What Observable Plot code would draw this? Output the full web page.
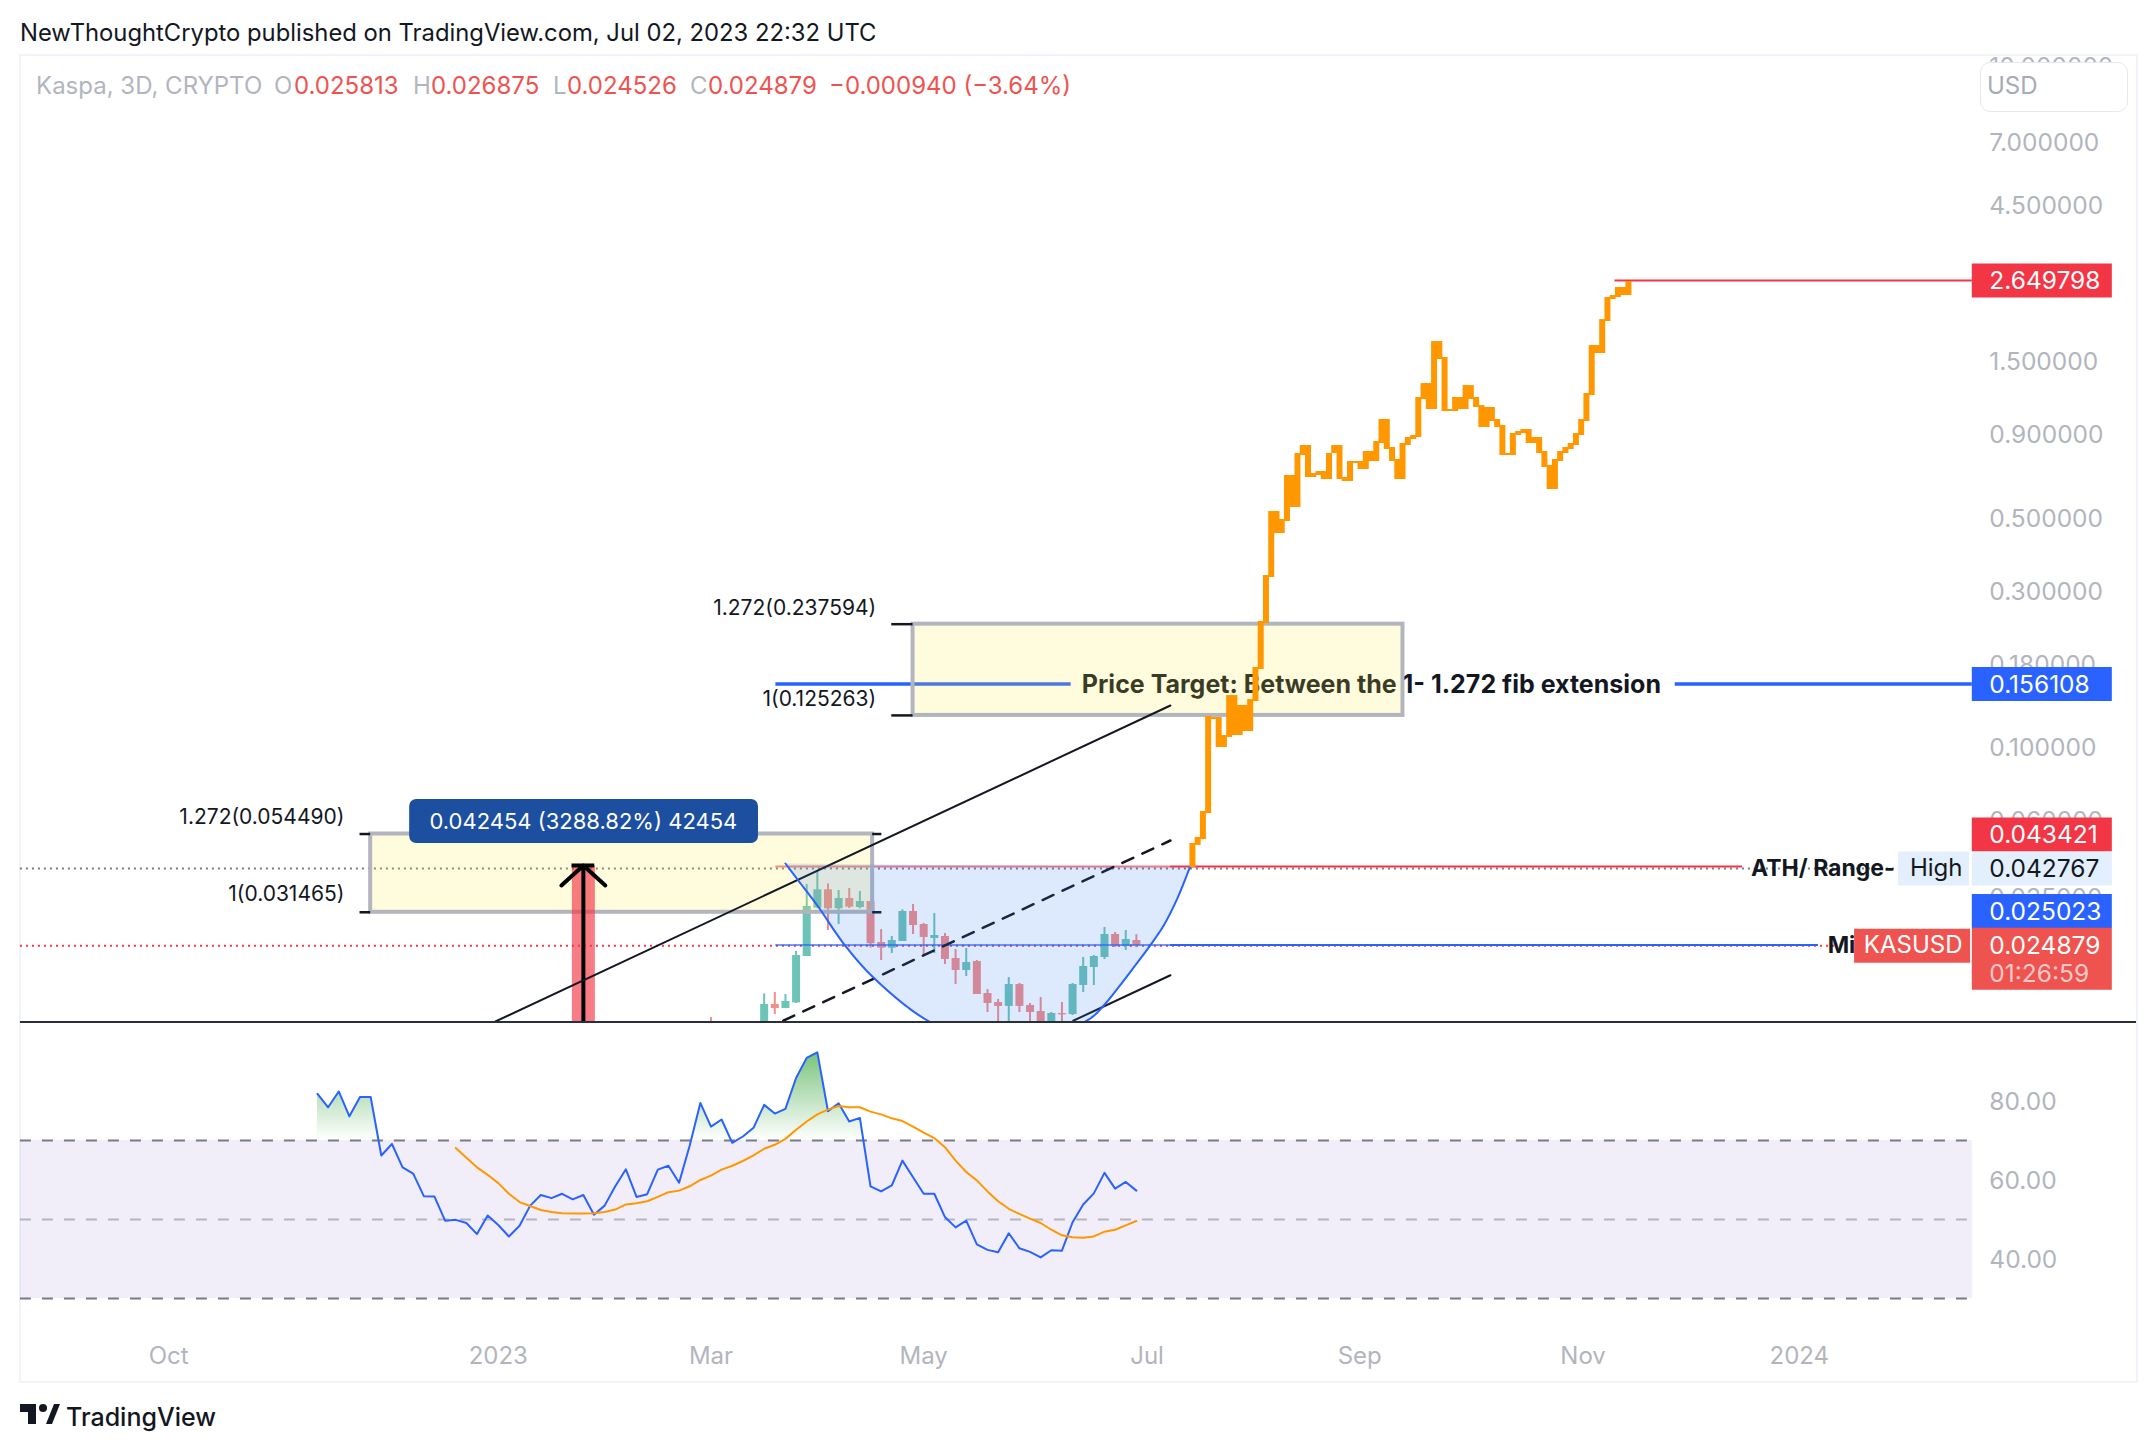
<!DOCTYPE html>
<html><head><meta charset="utf-8">
<script src="https://cdn.jsdelivr.net/npm/d3@7"></script>
<script src="https://cdn.jsdelivr.net/npm/@observablehq/plot@0.6"></script>
<style>
html,body{margin:0;background:#fff;}
#page{position:relative;width:2156px;height:1450px;overflow:hidden;font-family:Inter,sans-serif;color:#131722;}
#page>svg{position:absolute;left:0;}
.t{position:absolute;white-space:nowrap;font-size:24px;line-height:30px;}
</style></head><body><div id="page"></div>
<script>
// --- text
const publishedLine = "NewThoughtCrypto published on TradingView.com, Jul 02, 2023 22:32 UTC";
const legendItems = [["Kaspa, 3D, CRYPTO",36,"#b2b5be"],["O",274,"#b2b5be"],["0.025813",294,"#ef5350"],["H",413,"#b2b5be"],["0.026875",431,"#ef5350"],["L",553,"#b2b5be"],["0.024526",567,"#ef5350"],["C",690,"#b2b5be"],["0.024879",708,"#ef5350"],["\u22120.000940 (\u22123.64%)",829,"#ef5350"]];
// --- axes
const priceTicks = [10,7,4.5,1.5,0.9,0.5,0.3,0.18,0.1,0.06,0.035];
const rsiTicks = [80,60,40];
const timeTickDates = ["2022-09-30","2023-01-01","2023-03-02","2023-05-01","2023-07-03","2023-09-01","2023-11-03","2024-01-03"];
const timeTickLabels = ["Oct","2023","Mar","May","Jul","Sep","Nov","2024"];
const timeTickBold = [false,true,false,false,false,false,false,true];
// --- candles: bar number (3-day bars), open, high, low, close
const candleBar = [37,42,43,44,45,46,47,48,49,50,51,52,53,54,55,56,57,58,59,60,61,62,63,64,65,66,67,68,69,70,71,72,73,74,75,76,77];
const candleOpen = [.0140,.0140,.01647,.01602,.01666,.02307,.03239,.03683,.03224,.03466,.03254,.03393,.02545,.02446,.02563,.03164,.02888,.02618,.02655,.02275,.02091,.02227,.01779,.01670,.01625,.01895,.01636,.01568,.0140,.01546,.01535,.01882,.02136,.02291,.02692,.02475,.025813];
const candleHigh = [.01503,.01775,.01792,.01767,.02390,.03824,.04219,.03842,.03666,.03718,.03640,.03393,.02788,.02655,.03201,.03323,.02908,.03120,.02711,.02423,.02440,.02243,.01830,.01706,.01991,.01909,.01659,.01730,.01557,.01670,.01909,.02291,.02323,.02828,.02730,.02769,.026875];
const candleLow = [.0135,.0135,.01535,.01602,.01659,.02307,.03224,.02769,.02888,.03231,.03224,.02446,.02243,.02356,.02563,.02692,.02323,.02356,.02181,.01895,.02005,.01767,.01557,.0135,.0135,.01557,.0135,.0135,.0135,.0135,.01525,.01792,.01882,.02259,.02457,.02406,.024526];
const candleClose = [.0138,.01647,.01602,.01682,.02323,.03277,.03683,.03224,.03466,.03262,.03393,.02522,.02446,.02581,.03164,.02868,.02636,.02673,.02259,.02091,.02212,.01767,.01659,.01625,.01895,.01625,.01557,.0140,.01546,.01532,.01895,.02151,.02307,.02692,.02475,.02599,.024879];
// --- orange projected path: high and low of each projected step
const projHigh = [.0510,.0532,.0638,.1243,.1234,.1234,.1088,.1440,.1440,.1343,.1343,.1400,.1753,.2421,.3344,.5239,.5239,.4953,.6745,.6745,.7871,.8326,.8326,.6840,.6936,.6936,.7871,.8326,.8326,.6651,.7441,.7441,.7441,.7982,.7982,.8562,.9992,.9992,.8210,.7547,.8443,.8806,.8931,1.166,1.286,1.286,1.727,1.727,1.544,1.072,1.166,1.166,1.268,1.268,1.166,1.102,1.087,1.087,.9992,.9579,.7871,.9057,.9185,.9315,.9315,.8806,.8806,.7982,.7235,.7547,.7982,.8210,.8443,.9057,.9992,1.199,1.679,1.679,2.015,2.352,2.385,2.523,2.523,2.632];
const projLow = [.0431,.0503,.0524,.0629,.1217,.1000,.1000,.1073,.1088,.1088,.1119,.1119,.1381,.1729,.2387,.3297,.4490,.4490,.4884,.5388,.5388,.7761,.6651,.6651,.6745,.6558,.6558,.7871,.6558,.6467,.6467,.7337,.7035,.7035,.7441,.7441,.8443,.8095,.7441,.6558,.6558,.8326,.8684,.8806,1.150,1.072,1.072,1.522,1.057,1.057,1.057,1.072,1.072,1.150,1.087,.9446,.9446,.9852,.9446,.7761,.7761,.7761,.8931,.9057,.8443,.8443,.7871,.7134,.6114,.6114,.7441,.7871,.8095,.8326,.8931,.9852,1.182,1.588,1.588,1.988,2.319,2.352,2.385,2.385];
const projFirstDay = 246.8, projStepDays = 1.482;
// --- RSI (first value at bar 0)
const rsiValues = [81.8,78.4,82.4,76.1,81,81,66.2,69.1,63.2,61.6,55.9,55.8,49.7,49.9,49.1,46.3,51,48.6,45.7,48.4,53.5,56.2,55.4,56.5,55.1,56.2,51.2,53.5,58.4,62.7,55.7,56.4,62.6,63.6,59.3,68.7,79.5,73.5,75.3,69.4,71,73.2,79,76.8,78,85.8,90.9,92.3,77.4,79.4,74.8,75.7,58.4,57.1,58.6,64.9,60.7,56.5,56.5,50.6,48,49.7,43.7,42.3,41.7,46.5,42.7,41.8,40.4,42.2,42.1,49.3,53.8,56.6,61.8,57.8,59.5,57.3];
// RSI moving average (first value at bar 13)
const maValues = [68.1,65.6,63.2,61.3,59.2,56.5,54.4,53.4,52.4,51.9,51.6,51.5,51.5,51.6,51.9,52.5,53.8,54.1,54.6,55.7,56.9,57.3,58.4,60,61.1,62.6,63.6,64.8,66.2,67.9,68.9,70.4,72.7,74.8,76.6,77.8,78.7,78.4,78.4,77.3,76.6,75.6,74.9,73.5,72,70.6,68.3,64.9,62,59.9,57.1,54.6,52.7,51.4,50.2,49.1,47.4,46,45.5,45.4,45.7,46.9,47.4,48.5,49.6];
// --- drawings: [day since first bar, price]
const arcPoints = [[132,.04431],[135.4,.0396],[141,.033],[148.4,.02527],[156.8,.01991],[172.1,.01472],[194.1,.0121],[217.6,.01483],[221.8,.01636],[226,.0186],[230.3,.0214],[235,.02504],[238.7,.02868],[242.5,.03458],[246.1,.0432]];
const trendSolid = [[50.2,.01462],[240.6,.1343]];
const trendDashed = [[131.4,.0147],[240.6,.05207]];
const trendLower = [[213.2,.0147],[240.6,.02023]];
const fibLow = {left:15,right:156.6,top:.05449,bottom:.031465};
const fibHigh = {left:168,right:306.2,top:.237594,bottom:.125263};
const fibLabels = [["1.272(0.054490)",.0612],["1(0.031465)",.0357]];
const fibLabels2 = [["1.272(0.237594)",.265],["1(0.125263)",.1405]];
const arrowBar = 75, arrowHead = .0437, arrowWing = .03797, arrowWingDays = 6.2;
const measureLabel = "0.042454 (3288.82%) 42454";
const hiValue = .042767, lastValue = .024879, midValue = .025023, athValue = .043421, targetValue = .156108, upperValue = 2.649798;
// tag: text, price, offset, colour, text colour
const tags = [["2.649798",upperValue,0,"#f23645","#fff"],["0.156108",targetValue,0,"#2962ff","#fff"],["0.043421",athValue,-32,"#f23645","#fff"],["0.042767",hiValue,0,"#e3effd","#131722"],["0.025023",midValue,-34,"#2962ff","#fff"]];

const base = Date.UTC(2022,10,11);
const day = n => new Date(base + n*864e5);
const pxDomain = [day(-89.42), day(518.76)];
const xScale = {type:"time", domain:pxDomain, range:[0,2156]};
const paneEnd = 466.8, tagEnd = 506.3, labelDay = 471.6, leftDay = -83.8;
const axisFont = 24.5;
const candles = candleBar.map((b,i)=>({t:day(b*3),o:candleOpen[i],h:candleHigh[i],l:candleLow[i],c:candleClose[i]}));
const proj = projHigh.map((h,i)=>({t:day(projFirstDay+i*projStepDays),h,l:projLow[i]}));
const up="#6cc3b7", dn="#f48c8a";
const color = d=> d.c>=d.o?up:dn;
const ln = (pts,opt)=>Plot.line(pts,{x:d=>day(d[0]),y:d=>d[1],...opt});
const rr = (y,d1,d2,opt)=>Plot.ruleY([y],{x1:day(d1),x2:day(d2),...opt});
const txt = (s,d,y,opt)=>Plot.text([s],{x:day(d),y:[y],text:d=>d,fontFamily:"Inter",...opt});
const box = (b)=>Plot.rect([b],{x1:d=>day(d.left),x2:d=>day(d.right),y1:"bottom",y2:"top",fill:"#ffeb3b",fillOpacity:.17,stroke:"#b2b5be",strokeWidth:4});

const main = Plot.plot({
  width:2156,height:1021,margin:0,
  style:{background:"transparent",fontFamily:"Inter"},
  x:{...xScale,axis:null},
  y:{type:"log",domain:[.01462,7,10,10.8],range:[1021,141.6,66,55],axis:null},
  marks:[
    Plot.text(priceTicks,{x:day(labelDay),y:d=>d,text:d=>d.toFixed(6),dy:1,textAnchor:"start",fontSize:axisFont,fontFamily:"Inter",fill:"#b2b5be"}),
    rr(hiValue,leftDay,446,{stroke:"#787b86",strokeWidth:2,strokeDasharray:"2 4"}),
    rr(lastValue,leftDay,429,{stroke:"#f23645",strokeWidth:2,strokeDasharray:"2 4"}),
    Plot.ruleX(candles,{x:"t",y1:"l",y2:"h",stroke:color,strokeWidth:2}),
    Plot.ruleX(candles,{x:"t",y1:"o",y2:"c",stroke:color,strokeWidth:8}),
    // labelled horizontal lines
    txt("Price Target: Between the 1- 1.272 fib extension",215.6,targetValue,{textAnchor:"start",fontSize:25,fontWeight:700,fill:"#131722",dy:1}),
    rr(targetValue,129.3,212.6,{stroke:"#2962ff",strokeWidth:3.5}),
    rr(targetValue,383,paneEnd,{stroke:"#2962ff",strokeWidth:3.5}),
    rr(athValue,129.3,240.5,{stroke:"#f23645",strokeWidth:2,strokeOpacity:.65}),
    rr(athValue,240.5,402,{stroke:"#f23645",strokeWidth:2}),
    rr(midValue,129.3,240.5,{stroke:"#2962ff",strokeWidth:2,strokeOpacity:.65}),
    rr(midValue,240.5,423.4,{stroke:"#2962ff",strokeWidth:2}),
    rr(upperValue,366,paneEnd,{stroke:"#f23645",strokeWidth:2}),
    txt("ATH/ Range-",404.4,hiValue,{textAnchor:"start",fontSize:23,fontWeight:700,fill:"#131722"}),
    txt("Mi",426,lastValue,{textAnchor:"start",fontSize:23,fontWeight:700,fill:"#131722"}),
    // fib boxes
    box(fibLow),box(fibHigh),
    // long arrow
    Plot.ruleX([arrowBar],{x:d=>day(d),y1:.0137,y2:arrowHead,stroke:"#f23645",strokeOpacity:.65,strokeWidth:23}),
    Plot.ruleX([arrowBar],{x:d=>day(d),y1:.0137,y2:arrowHead,stroke:"#000",strokeWidth:4}),
    ln([[arrowBar-arrowWingDays,arrowWing],[arrowBar,arrowHead],[arrowBar+arrowWingDays,arrowWing]],{stroke:"#000",strokeWidth:4}),
    rr(arrowHead,arrowBar-3.2,arrowBar+3.2,{stroke:"#000",strokeWidth:4}),
    rr(fibLow.top,12,15,{stroke:"#131722",strokeWidth:2.5}),rr(fibLow.bottom,12,15,{stroke:"#131722",strokeWidth:2.5}),
    rr(fibLow.top,156.6,159.2,{stroke:"#131722",strokeWidth:2.5}),rr(fibLow.bottom,156.6,159.2,{stroke:"#131722",strokeWidth:2.5}),
    rr(fibHigh.top,162,168,{stroke:"#131722",strokeWidth:2.5}),rr(fibHigh.bottom,162,168,{stroke:"#131722",strokeWidth:2.5}),
    ...fibLabels.map(d=>txt(d[0],7.6,d[1],{textAnchor:"end",fontSize:21,fill:"#131722"})),
    ...fibLabels2.map(d=>txt(d[0],157.6,d[1],{textAnchor:"end",fontSize:21,fill:"#131722"})),
    // trend lines
    ln(trendSolid,{stroke:"#131722",strokeWidth:2}),
    ln(trendDashed,{stroke:"#131722",strokeWidth:2.5,strokeDasharray:"12 10"}),
    ln(trendLower,{stroke:"#131722",strokeWidth:2}),
    // rounded bowl
    ln(arcPoints,{curve:"catmull-rom",stroke:"none",fill:"#2978f0",fillOpacity:.16}),
    ln(arcPoints,{curve:"catmull-rom",stroke:"#2962ff",strokeWidth:2}),
    // measure label
    Plot.rect([0],{x1:day(26),x2:day(124.4),y1:.051,y2:.0694,fill:"#1c4f9f",rx:7}),
    txt(measureLabel,75,.0595,{fontSize:22,fill:"#fff"}),
    // orange path
    Plot.ruleX(proj,{x:"t",y1:"l",y2:"h",stroke:"#ff9800",strokeWidth:6}),
    // price tags
    ...tags.flatMap(t=>[
      Plot.ruleY([t[1]],{x1:day(paneEnd),x2:day(tagEnd),stroke:t[3],strokeWidth:34,dy:t[2]}),
      Plot.text([t[0]],{x:day(labelDay),y:[t[1]],dy:t[2]+1,text:d=>d,textAnchor:"start",fontSize:axisFont,fontFamily:"Inter",fill:t[4]})
    ]),
    Plot.ruleY([hiValue],{x1:day(446),x2:day(466),stroke:"#e3effd",strokeWidth:34}),
    txt("High",449.2,hiValue,{textAnchor:"start",fontSize:24,fill:"#131722"}),
    Plot.ruleY([lastValue],{x1:day(433.6),x2:day(466.3),stroke:"#ef5350",strokeWidth:34}),
    txt("KASUSD",436.2,lastValue,{textAnchor:"start",fontSize:24,fill:"#fff"}),
    Plot.ruleY([lastValue],{x1:day(paneEnd),x2:day(tagEnd),stroke:"#ef5350",strokeWidth:62,dy:13}),
    txt(lastValue.toFixed(6),labelDay,lastValue,{textAnchor:"start",fontSize:axisFont,fill:"#fff"}),
    txt("01:26:59",labelDay,lastValue,{textAnchor:"start",fontSize:axisFont,fill:"#fff",fillOpacity:.7,dy:28})
  ]
});

const rsi = rsiValues.map((v,i)=>({t:day(i*3),v}));
const ma = maValues.map((v,i)=>({t:day((i+13)*3),v}));
const rsiPlot = Plot.plot({
  width:2156,height:357,margin:0,
  style:{background:"transparent",fontFamily:"Inter"},
  x:{...xScale,axis:null},
  y:{type:"linear",domain:[9.24,99.6],range:[357,0],axis:null},
  marks:[
    Plot.rect([0],{x1:day(leftDay),x2:day(paneEnd),y1:30,y2:70,fill:"#7e57c2",fillOpacity:.1}),
    Plot.areaY(rsi,{x:"t",y1:70,y2:"v",fill:"url(#rsiGreen)"}),
    ...[[70,1],[50,.5],[30,1]].map(([v,o])=>rr(v,leftDay,paneEnd,{stroke:"#787b86",strokeWidth:2,strokeDasharray:"11 11",strokeOpacity:o})),
    Plot.line(rsi,{x:"t",y:"v",stroke:"#2962ff",strokeWidth:2}),
    Plot.line(ma,{x:"t",y:"v",stroke:"#ff9800",strokeWidth:2}),
    Plot.text(rsiTicks,{x:day(labelDay),y:d=>d,text:d=>d.toFixed(2),dy:1.5,textAnchor:"start",fontSize:axisFont,fontFamily:"Inter",fill:"#b2b5be"}),
    Plot.text(timeTickLabels.map((s,i)=>({s,t:new Date(timeTickDates[i]),b:timeTickBold[i]})),{x:"t",y:15.8,dy:2,text:"s",fontSize:24,fontFamily:"Inter",fill:"#b2b5be",fontWeight:d=>d.b?700:400})
  ]
});
// gradient for the overbought fill, tied to the RSI scale
{
  const yS = rsiPlot.scale("y");
  const ns="http://www.w3.org/2000/svg";
  const defs=document.createElementNS(ns,"defs");
  const g=document.createElementNS(ns,"linearGradient");
  g.setAttribute("id","rsiGreen");g.setAttribute("gradientUnits","userSpaceOnUse");
  g.setAttribute("x1",0);g.setAttribute("x2",0);g.setAttribute("y1",yS.apply(92.3));g.setAttribute("y2",yS.apply(70));
  [[0,.75],[1,0]].forEach(([o,a])=>{const s=document.createElementNS(ns,"stop");s.setAttribute("offset",o);s.setAttribute("stop-color","#4caf50");s.setAttribute("stop-opacity",a);g.appendChild(s);});
  defs.appendChild(g);rsiPlot.insertBefore(defs,rsiPlot.firstChild);
}

const page=document.getElementById("page");
const add=(html)=>{const d=document.createElement("div");d.innerHTML=html;const e=d.firstChild;page.appendChild(e);return e;};
add('<div style="position:absolute;left:19px;top:54px;width:2115px;height:1325px;border:2px solid #f0f3fa;box-sizing:content-box"></div>');
main.style.top="0px";page.appendChild(main);
add('<div style="position:absolute;left:20px;top:1021px;width:2116px;height:2px;background:#2a2e39"></div>');
rsiPlot.style.top="1023px";page.appendChild(rsiPlot);
add(`<div class="t" style="left:20px;top:18px;font-size:23.8px">${publishedLine}</div>`);
legendItems.forEach(([s,x,c])=>add(`<div class="t" style="left:${x}px;top:71px;color:${c}">${s}</div>`));
add('<div class="t" style="left:1980px;top:62px;width:148px;height:50px;box-sizing:border-box;border:1.5px solid #e6e8ef;border-radius:10px;background:#fff;color:#a8abb5;padding:8px 6px">USD</div>');
add('<svg style="left:20px;top:1404px" width="40" height="20" viewBox="0 0 40 20"><path d="M0 0H16V20H8V8H0Z M26 20L34 0H40L32 20Z" fill="#131722"/><circle cx="23" cy="4" r="4" fill="#131722"/></svg>');
add('<div class="t" style="left:66px;top:1402px;font-size:25px;font-weight:500">TradingView</div>');
</script></body></html>
